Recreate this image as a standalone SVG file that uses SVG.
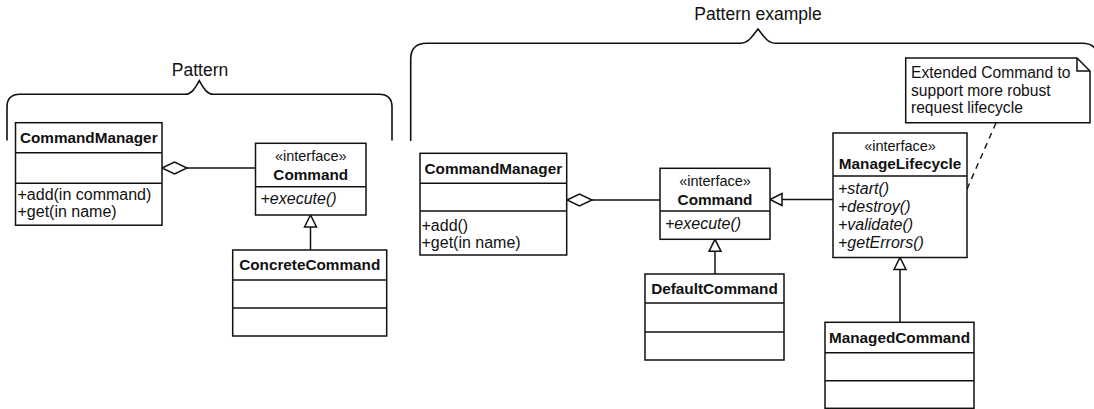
<svg xmlns="http://www.w3.org/2000/svg" width="1094" height="409" viewBox="0 0 1094 409">
<style>
  .box { fill: #fff; stroke: #111; stroke-width: 1.5; }
  .ln { fill: none; stroke: #111; stroke-width: 1.5; }
  .brace { fill: none; stroke: #111; stroke-width: 1.6; }
  .dash { fill: none; stroke: #111; stroke-width: 1.4; stroke-dasharray: 6 5; }
  text { font-family: "Liberation Sans", Arial, sans-serif; fill: #111; }
  .name { font-size: 15.3px; font-weight: bold; text-anchor: middle; }
  .st { font-size: 14.5px; text-anchor: middle; }
  .mem { font-size: 16px; }
  .op { font-size: 16px; font-style: italic; }
  .lbl { font-size: 17.5px; text-anchor: middle; }
  .note { font-size: 15.6px; }
</style>
<defs>
  <marker id="tri" markerUnits="userSpaceOnUse" orient="auto" refX="12" refY="0" markerWidth="14" markerHeight="14" overflow="visible">
    <path d="M0,-6 L12,0 L0,6 Z" fill="#fff" stroke="#111" stroke-width="1.5"/>
  </marker>
  <marker id="dia" markerUnits="userSpaceOnUse" orient="auto" refX="0" refY="0" markerWidth="26" markerHeight="14" overflow="visible">
    <path d="M0,0 L12.5,-6 L25,0 L12.5,6 Z" fill="#fff" stroke="#111" stroke-width="1.5"/>
  </marker>
</defs>

<g id="braces">
  <path class="brace" d="M7,140.5 V107 Q7,94.3 20,94.3 H185 C192,94.3 195,88 199.3,80.7 C203.6,88 206.6,94.3 213.6,94.3 H379 Q392,94.3 392,107 V140.5"/>
  <text class="lbl" x="200" y="76">Pattern</text>
  <path class="brace" d="M410.7,141 V59 Q410.7,43.3 427,43.3 H740 C748,43.3 752,37 758,29 C764,37 768,43.3 776,43.3 H1082 Q1098,43.3 1098,59 V141"/>
  <text class="lbl" x="758" y="19.5">Pattern example</text>
</g>

<g id="connectors">
  <line class="ln" x1="162" y1="168" x2="255.5" y2="168" marker-start="url(#dia)"/>
  <line class="ln" x1="310.5" y1="250" x2="310.5" y2="215" marker-end="url(#tri)"/>
  <line class="ln" x1="567" y1="200" x2="660" y2="200" marker-start="url(#dia)"/>
  <line class="ln" x1="833" y1="199.5" x2="770" y2="199.5" marker-end="url(#tri)"/>
  <line class="ln" x1="715" y1="274" x2="715" y2="239.3" marker-end="url(#tri)"/>
  <line class="ln" x1="900" y1="322.3" x2="900" y2="257.5" marker-end="url(#tri)"/>
  <line class="dash" x1="996" y1="123" x2="967" y2="189"/>
</g>

<g id="cm1">
  <rect class="box" x="15.5" y="122.7" width="146.5" height="102.5"/>
  <line class="ln" x1="15.5" y1="152.7" x2="162" y2="152.7"/>
  <line class="ln" x1="15.5" y1="183.3" x2="162" y2="183.3"/>
  <text class="name" x="88.75" y="143">CommandManager</text>
  <text class="mem" x="17.5" y="200">+add(in command)</text>
  <text class="mem" x="17.5" y="217">+get(in name)</text>
</g>

<g id="cmd1">
  <rect class="box" x="255.5" y="143.3" width="110.5" height="71.7"/>
  <line class="ln" x1="255.5" y1="186.7" x2="366" y2="186.7"/>
  <text class="st" x="310.75" y="161">«interface»</text>
  <text class="name" x="310.75" y="179.5">Command</text>
  <text class="op" x="260.5" y="204">+execute()</text>
</g>

<g id="concrete">
  <rect class="box" x="232.7" y="250" width="154" height="86"/>
  <line class="ln" x1="232.7" y1="280" x2="386.7" y2="280"/>
  <line class="ln" x1="232.7" y1="308" x2="386.7" y2="308"/>
  <text class="name" x="309.7" y="270.2">ConcreteCommand</text>
</g>

<g id="cm2">
  <rect class="box" x="420" y="153.3" width="146.7" height="101.7"/>
  <line class="ln" x1="420" y1="183.3" x2="566.7" y2="183.3"/>
  <line class="ln" x1="420" y1="211" x2="566.7" y2="211"/>
  <text class="name" x="493.35" y="173.6">CommandManager</text>
  <text class="mem" x="421.5" y="230.6">+add()</text>
  <text class="mem" x="421.5" y="247.6">+get(in name)</text>
</g>

<g id="cmd2">
  <rect class="box" x="660" y="168.3" width="110" height="71"/>
  <line class="ln" x1="660" y1="211" x2="770" y2="211"/>
  <text class="st" x="715" y="186">«interface»</text>
  <text class="name" x="715" y="204.5">Command</text>
  <text class="op" x="665" y="228.5">+execute()</text>
</g>

<g id="default">
  <rect class="box" x="645" y="274" width="139" height="86"/>
  <line class="ln" x1="645" y1="303" x2="784" y2="303"/>
  <line class="ln" x1="645" y1="332" x2="784" y2="332"/>
  <text class="name" x="714.5" y="294">DefaultCommand</text>
</g>

<g id="lifecycle">
  <rect class="box" x="833" y="133" width="134" height="124.5"/>
  <line class="ln" x1="833" y1="176" x2="967" y2="176"/>
  <text class="st" x="900" y="150.7">«interface»</text>
  <text class="name" x="900" y="169">ManageLifecycle</text>
  <text class="op" x="838" y="193.5">+start()</text>
  <text class="op" x="838" y="211.5">+destroy()</text>
  <text class="op" x="838" y="229.5">+validate()</text>
  <text class="op" x="838" y="247.5">+getErrors()</text>
</g>

<g id="managed">
  <rect class="box" x="825" y="322.3" width="149" height="86"/>
  <line class="ln" x1="825" y1="352.7" x2="974" y2="352.7"/>
  <line class="ln" x1="825" y1="380.7" x2="974" y2="380.7"/>
  <text class="name" x="899.5" y="342.7">ManagedCommand</text>
</g>

<g id="note">
  <path class="box" d="M905.7,58 H1077 L1090,71 V122.7 H905.7 Z"/>
  <path class="ln" d="M1077,58 V71 H1090"/>
  <text class="note" x="911" y="78">Extended Command to</text>
  <text class="note" x="911" y="95.5">support more robust</text>
  <text class="note" x="911" y="113">request lifecycle</text>
</g>
</svg>
